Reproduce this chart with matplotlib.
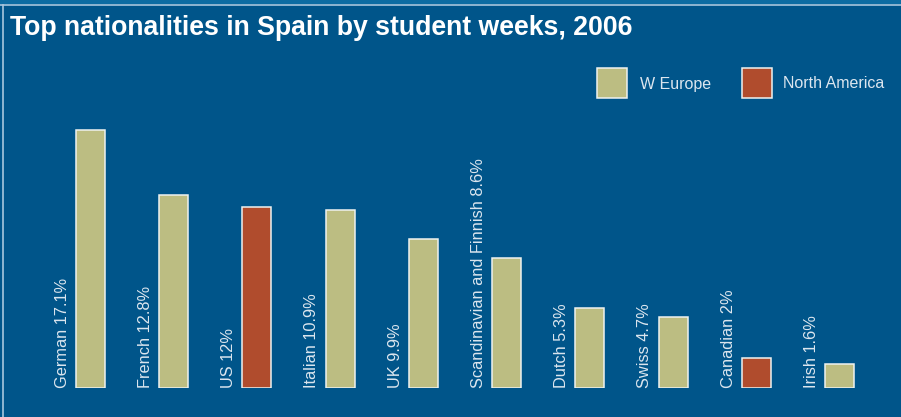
import matplotlib
matplotlib.use("Agg")
import matplotlib.pyplot as plt
from matplotlib.patches import Rectangle
import numpy as np

# ── Data ──────────────────────────────────────────────────────────────────────
countries = ["German", "French", "US", "Italian", "UK",
             "Scandinavian and Finnish", "Dutch", "Swiss", "Canadian", "Irish"]
# shares as printed in the labels
shares = [17.1, 12.8, 12, 10.9, 9.9, 8.6, 5.3, 4.7, 2, 1.6]
# bar heights as drawn (the Italian bar is drawn taller than its label says)
bar_heights = [17.1, 12.8, 12, 11.8, 9.9, 8.6, 5.3, 4.7, 2, 1.6]
regions = ["W Europe", "W Europe", "North America", "W Europe", "W Europe",
           "W Europe", "W Europe", "W Europe", "North America", "W Europe"]

region_colors = {"W Europe": "#BCBD82", "North America": "#B04C2D"}
BG = "#00558A"
TEXT = "#DCE6EF"

plt.rcParams["font.family"] = ["Liberation Sans", "DejaVu Sans"]

W, H = 901, 417
fig = plt.figure(figsize=(W / 100, H / 100), dpi=100)
fig.patch.set_facecolor(BG)

# frame: lighter strip on top plus thin pale lines top and left
fig.add_artist(Rectangle((0, 1 - 4 / H), 1, 4 / H, transform=fig.transFigure,
                         facecolor="#0D6CA2", edgecolor="none"))
fig.add_artist(plt.Line2D([0, 1], [1 - 5 / H, 1 - 5 / H], transform=fig.transFigure,
                          color="#A8C6DE", linewidth=1.2))
fig.add_artist(plt.Line2D([2.5 / W, 2.5 / W], [0, 1 - 5 / H], transform=fig.transFigure,
                          color="#A8C6DE", linewidth=1.2))

# ── Bars ──────────────────────────────────────────────────────────────────────
base_px = 388
px_per_unit = 258 / 17.1
ax_h_px = 20 * px_per_unit
ax = fig.add_axes([0, (H - base_px) / H, 1, ax_h_px / H])
ax.set_facecolor("none")

x = np.arange(len(countries))
step = 83.2
first_px, last_px = 90.5, 839.5
ax.set_xlim(-first_px / step, len(countries) - 1 + (W - last_px) / step)
ax.set_ylim(0, 20)

bar_w = 29 / step
colors = [region_colors[r] for r in regions]
ax.bar(x, bar_heights, width=bar_w, color=colors, edgecolor="#EEF2F0", linewidth=1.1)

for xi, name, val in zip(x, countries, shares):
    ax.annotate(f"{name} {val:g}%", xy=(xi - bar_w / 2, 0), xytext=(-4.5, 0),
                textcoords="offset points", rotation=90, ha="right", va="bottom",
                fontsize=11.8, color=TEXT)

ax.axis("off")

# ── Title ─────────────────────────────────────────────────────────────────────
fig.text(10 / W, 1 - 35 / H, "Top nationalities in Spain by student weeks, 2006",
         fontsize=19.2, fontweight="bold", color="white", va="baseline", ha="left")

# ── Legend ────────────────────────────────────────────────────────────────────
legend_items = [("W Europe", 597, 640), ("North America", 742, 783)]
for label, sq_x, tx_x in legend_items:
    fig.add_artist(Rectangle((sq_x / W, 1 - 98 / H), 30 / W, 30 / H,
                             transform=fig.transFigure,
                             facecolor=region_colors[label],
                             edgecolor="#EEF2F0", linewidth=1.1))
    fig.text(tx_x / W, 1 - 84 / H, label, fontsize=11.5, color=TEXT,
             va="center", ha="left")

fig.savefig("out.png", dpi=100, facecolor=BG)
